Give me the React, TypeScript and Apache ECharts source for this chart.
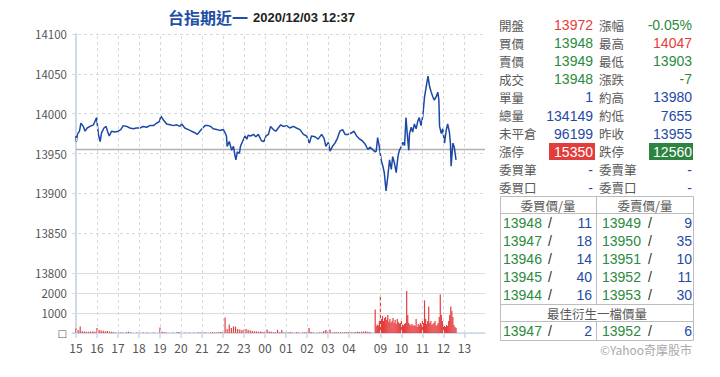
import React, { useEffect, useRef } from "react";
import * as echarts from "echarts";

// ---------- DATA ----------
const priceTimes = [
  "15:00","15:01","15:04","15:10","15:14","15:21","15:26","15:32","15:40","15:50","15:59",
  "16:04","16:09","16:13","16:20","16:26","16:30","16:35","16:42","16:51",
  "17:01","17:08","17:15","17:25","17:34","17:44","17:53",
  "18:03","18:12","18:22","18:31","18:41","18:50","18:58",
  "19:03","19:10","19:19","19:29","19:38","19:48","19:57",
  "20:02","20:11","20:21","20:30","20:40","20:47","20:54",
  "21:02","21:09","21:18","21:25","21:32","21:42","21:51",
  "22:01","22:06","22:10","22:12","22:18","22:25","22:30","22:34","22:37","22:41","22:47","22:50","22:56",
  "23:03","23:08","23:12","23:19","23:27","23:34","23:41","23:50","23:57",
  "00:03","00:10","00:16","00:24","00:31","00:38","00:45","00:52",
  "01:02","01:11","01:21","01:30","01:40","01:50","01:59",
  "02:07","02:13","02:23","02:32","02:42","02:49","02:54",
  "03:01","03:06","03:13","03:20","03:27","03:34","03:42","03:49","03:58",
  "04:08","04:14","04:22","04:31","04:38","04:46","04:54","05:00",
  "08:45","08:48","08:52","08:57","09:02","09:07","09:11","09:16","09:21","09:26","09:31","09:35","09:40","09:45","09:50","09:54","09:59",
  "10:04","10:09","10:13","10:18","10:21","10:23","10:28","10:32","10:37","10:42","10:47","10:51","10:56",
  "11:01","11:06","11:09","11:12","11:16","11:20","11:25","11:30","11:34","11:39","11:44","11:47","11:49","11:54","11:58",
  "12:03","12:08","12:12","12:17","12:20","12:22","12:27","12:31","12:36"
];
const prices = [
  13972,13965,13974,13978,13988,13984,13978,13982,13984,13986,13995,
  13974,13965,13976,13982,13984,13978,13972,13978,13977,
  13978,13980,13985,13984,13982,13981,13982,
  13982,13984,13983,13985,13985,13988,13990,
  13997,13992,13987,13986,13985,13986,13984,
  13987,13982,13980,13978,13976,13974,13978,
  13982,13985,13985,13984,13981,13980,13979,
  13980,13976,13972,13959,13965,13954,13959,13948,13942,13952,13950,13959,13965,
  13972,13968,13973,13972,13974,13971,13974,13966,13965,
  13972,13974,13984,13980,13978,13982,13986,13984,
  13985,13982,13984,13982,13980,13974,13972,
  13963,13972,13971,13968,13974,13969,13959,
  13964,13953,13959,13963,13969,13978,13980,13974,13974,
  13976,13978,13972,13968,13966,13962,13955,13958,
  13952,13953,13970,13958,13942,13934,13926,13903,13921,13942,13930,13946,13938,13926,13946,13954,13958,
  13964,13960,13995,13967,13954,13975,13983,13977,13987,13981,13991,13995,13985,
  13997,14021,14029,14037,14047,14035,14027,14021,14017,14021,14027,14017,13984,13975,13981,
  13963,13979,13987,13977,13963,13934,13963,13958,13942
];
const prevClose = 13955;

// night session volumes, one bar every 6 minutes from 15:00
const nightVolumes = [
  220,150,330,90,80,70,60,80,70,60,
  250,150,120,110,90,100,70,60,40,30,
  0,30,20,0,40,60,30,0,0,20,
  0,0,20,0,30,0,0,20,0,0,
  280,60,40,30,0,0,20,0,40,50,
  20,0,20,0,30,0,20,0,30,20,
  30,20,30,0,30,40,30,20,40,50,
  50,780,200,420,250,330,320,200,180,150,
  180,200,160,120,100,90,80,60,70,50,
  60,170,80,60,40,40,160,40,150,30,
  40,30,50,20,0,40,30,0,30,40,
  40,250,50,30,0,20,30,20,100,150,
  60,170,30,40,40,30,40,30,40,40,
  50,40,30,40,60,50,70,80,90,60,50
];
// day session volumes, one bar every 3 minutes from 08:45
const dayVolumes = [
  1170,350,420,380,600,1850,700,850,600,750,
  800,650,900,550,700,500,600,750,500,650,
  450,700,550,480,500,600,420,380,450,500,
  2100,900,500,420,380,450,350,400,350,700,
  300,450,380,500,420,600,500,1630,700,450,
  600,1330,500,600,400,450,500,600,350,400,
  500,800,1920,900,600,400,350,300,400,350,
  600,900,1330,1100,800,400,300,250
];

const xTickLabels = ["15","16","17","18","19","20","21","22","23","00","01","02","03","04","09","10","11","12","13"];
const priceTicks = [13800, 13850, 13900, 13950, 14000, 14050, 14100];
const volumeTicks = [0, 1000, 2000, 3000];

const titleText = "台指期近一";
const stampText = "2020/12/03 12:37";

const infoLabelsL = ["開盤","買價","賣價","成交","單量","總量","未平倉","漲停","委買筆","委買口"];
const infoValuesL = ["13972","13948","13949","13948","1","134149","96199","15350","-","-"];
const infoColorsL = ["red","green","green","green","blue","blue","blue","white","blue","blue"];
const infoLabelsR = ["漲幅","最高","最低","漲跌","約高","約低","昨收","跌停","委賣筆","委賣口"];
const infoValuesR = ["-0.05%","14047","13903","-7","13980","7655","13955","12560","-","-"];
const infoColorsR = ["green","red","green","green","blue","blue","blue","white","blue","blue"];

const bidPrices = ["13948","13947","13946","13945","13944"];
const bidVolumes = ["11","18","14","40","16"];
const askPrices = ["13949","13950","13951","13952","13953"];
const askVolumes = ["9","35","10","11","30"];
const bestBid = ["13947", "2"];
const bestAsk = ["13952", "6"];

// ---------- helpers ----------
const toOffset = (t: string) => {
  const [h, m] = t.split(":").map(Number);
  if (h >= 15) return h - 15 + m / 60;
  if (h <= 5) return h + 9 + m / 60;
  return 14.5 + (h - 9) + m / 60;
};
const X_MIN = -0.19;
const X_MAX = 19.48;

const pad = (n: number) => (n < 10 ? "0" + n : "" + n);
const nightVolData = nightVolumes.map((v, i) => {
  const mins = 15 * 60 + i * 6;
  const t = pad(Math.floor(mins / 60) % 24) + ":" + pad(mins % 60);
  return [toOffset(t), v];
});
const dayVolData = dayVolumes.map((v, i) => {
  const mins = 8 * 60 + 45 + i * 3;
  const t = pad(Math.floor(mins / 60)) + ":" + pad(mins % 60);
  return [toOffset(t), v];
});
const priceData = priceTimes.map((t, i) => [toOffset(t), prices[i]]);
const tickOffsets = xTickLabels.map((l) => toOffset(l + ":00"));

const COLORS: Record<string, string> = {
  red: "#e63b3b",
  green: "#2b8a3e",
  blue: "#1f4aa6",
  white: "#ffffff",
};
const CJK = "'Noto Sans CJK TC', 'Noto Sans', sans-serif";
const LAT = "'Liberation Sans', Arial, sans-serif";

function txt(text: string, x: number, y: number, fill: string, size: number, align: string = "left", weight: string = "normal", family: string = LAT) {
  return {
    type: "text",
    x,
    y,
    silent: true,
    style: {
      text,
      fill,
      font: `${weight} ${size}px ${family}`,
      align,
      verticalAlign: "middle",
      textAlign: align,
      textVerticalAlign: "middle",
    },
  };
}
function hline(x1: number, x2: number, y: number) {
  return { type: "line", silent: true, shape: { x1, y1: y, x2, y2: y }, style: { stroke: "#bdbdbd", lineWidth: 1 } };
}
function vline(x: number, y1: number, y2: number) {
  return { type: "line", silent: true, shape: { x1: x, y1, x2: x, y2 }, style: { stroke: "#bdbdbd", lineWidth: 1 } };
}

function buildGraphic() {
  const g: any[] = [];
  g.push(txt(titleText, 168, 17, "#1f4fa3", 16, "left", "bold", CJK));
  g.push(txt(stampText, 253, 17, "#222222", 13, "left", "bold", LAT));
  // red/green boxes
  g.push({ type: "rect", silent: true, shape: { x: 549, y: 143, width: 46, height: 17 }, style: { fill: "#e23d3d" } });
  g.push({ type: "rect", silent: true, shape: { x: 649, y: 143, width: 44, height: 17 }, style: { fill: "#2c8440" } });
  for (let i = 0; i < infoLabelsL.length; i++) {
    const y = 25 + i * 18.1;
    g.push(txt(infoLabelsL[i], 499, y, "#5a5a5a", 12.5, "left", "normal", CJK));
    g.push(txt(infoValuesL[i], 593, y, COLORS[infoColorsL[i]], 14, "right"));
    g.push(txt(infoLabelsR[i], 599, y, "#5a5a5a", 12.5, "left", "normal", CJK));
    g.push(txt(infoValuesR[i], 692, y, COLORS[infoColorsR[i]], 14, "right"));
  }
  // order book table
  g.push({ type: "rect", silent: true, shape: { x: 500.5, y: 196.5, width: 193, height: 144 }, style: { fill: "none", stroke: "#bdbdbd", lineWidth: 1 } });
  g.push(hline(500.5, 693.5, 213.5));
  g.push(hline(500.5, 693.5, 304.5));
  g.push(hline(500.5, 693.5, 321.5));
  g.push(vline(596.5, 196.5, 304.5));
  g.push(vline(596.5, 321.5, 340.5));
  g.push(txt("委買價/量", 548, 205, "#5a5a5a", 12.5, "center", "normal", CJK));
  g.push(txt("委賣價/量", 645, 205, "#5a5a5a", 12.5, "center", "normal", CJK));
  for (let i = 0; i < bidPrices.length; i++) {
    const y = 223.3 + i * 17.9;
    g.push(txt(bidPrices[i], 503, y, COLORS.green, 14));
    g.push(txt("/", 550, y, "#333333", 14, "center"));
    g.push(txt(bidVolumes[i], 592, y, COLORS.blue, 14, "right"));
    g.push(txt(askPrices[i], 602, y, COLORS.green, 14));
    g.push(txt("/", 650, y, "#333333", 14, "center"));
    g.push(txt(askVolumes[i], 692, y, COLORS.blue, 14, "right"));
  }
  g.push(txt("最佳衍生一檔價量", 597, 313, "#5a5a5a", 12.5, "center", "normal", CJK));
  g.push(txt(bestBid[0], 503, 331, COLORS.green, 14));
  g.push(txt("/", 550, 331, "#333333", 14, "center"));
  g.push(txt(bestBid[1], 592, 331, COLORS.blue, 14, "right"));
  g.push(txt(bestAsk[0], 602, 331, COLORS.green, 14));
  g.push(txt("/", 650, 331, "#333333", 14, "center"));
  g.push(txt(bestAsk[1], 692, 331, COLORS.blue, 14, "right"));
  g.push(txt("©Yahoo奇摩股市", 692, 349.5, "#aaaaaa", 12, "right", "normal", CJK));
  return g;
}

const AXIS_BLUE = "#c9d9ee";
const gridMarkLine = {
  silent: true,
  symbol: ["none", "none"],
  label: { show: false },
  lineStyle: { type: [3, 3], color: "#d9d9d9", width: 1 },
  data: tickOffsets.map((x) => ({ xAxis: x })),
};

export default function App() {
  const ref = useRef<HTMLDivElement>(null);
  useEffect(() => {
    if (!ref.current) return;
    const chart = echarts.init(ref.current, null, { renderer: "svg" });
    const option: any = {
      animation: false,
      backgroundColor: "#ffffff",
      textStyle: { fontFamily: CJK },
      grid: [
        { left: 72, right: 235, top: 34, height: 239 },
        { left: 72, right: 235, top: 273, height: 60 },
      ],
      xAxis: [
        {
          gridIndex: 0, type: "value", min: X_MIN, max: X_MAX,
          axisLine: { show: false }, axisTick: { show: false }, axisLabel: { show: false }, splitLine: { show: false },
        },
        {
          gridIndex: 1, type: "value", min: X_MIN, max: X_MAX,
          axisLine: { show: true, onZero: false, lineStyle: { color: AXIS_BLUE, width: 1.5 } },
          axisTick: { show: true, customValues: tickOffsets, length: 5, lineStyle: { color: AXIS_BLUE, width: 1.5 } },
          axisLabel: {
            customValues: tickOffsets,
            color: "#555555",
            fontSize: 12,
            margin: 8,
            fontFamily: CJK,
            formatter: (v: number) => {
              let best = 0;
              for (let i = 0; i < tickOffsets.length; i++) {
                if (Math.abs(tickOffsets[i] - v) < Math.abs(tickOffsets[best] - v)) best = i;
              }
              return xTickLabels[best];
            },
          },
          splitLine: { show: false },
        },
      ],
      yAxis: [
        {
          gridIndex: 0, type: "value", min: priceTicks[0], max: priceTicks[priceTicks.length - 1], interval: 50,
          axisLine: { show: true, lineStyle: { color: AXIS_BLUE, width: 2 } },
          axisTick: { show: false },
          axisLabel: { color: "#555555", fontSize: 11.5, margin: 5, fontFamily: CJK, formatter: (v: number) => String(v) },
          splitLine: { show: true, lineStyle: { type: [3, 3], color: "#d9d9d9", width: 1 } },
        },
        {
          gridIndex: 1, type: "value", min: volumeTicks[0], max: volumeTicks[volumeTicks.length - 1], interval: 1000,
          axisLine: { show: true, lineStyle: { color: AXIS_BLUE, width: 2 } },
          axisTick: { show: false },
          axisLabel: {
            color: "#555555", fontSize: 11.5, margin: 5, fontFamily: CJK,
            formatter: (v: number) => (v === 0 ? "{b|□}" : v === 3000 ? "" : String(v)),
            rich: { b: { fontFamily: "'DejaVu Sans', sans-serif", fontSize: 10, color: "#555555" } },
          },
          splitLine: { show: true, lineStyle: { color: "#dddddd", width: 1 } },
        },
      ],
      series: [
        {
          name: "昨收",
          type: "line",
          xAxisIndex: 0, yAxisIndex: 0,
          data: [[0, prevClose], [X_MAX, prevClose]],
          symbol: "none",
          lineStyle: { color: "#b0b0b0", width: 1.5 },
          z: 1,
          silent: true,
          markLine: gridMarkLine,
        },
        {
          name: "grid2",
          type: "line",
          xAxisIndex: 1, yAxisIndex: 1,
          data: [[X_MIN, 0]],
          symbol: "none",
          lineStyle: { width: 0 },
          z: 1,
          silent: true,
          markLine: gridMarkLine,
        },
        {
          name: "成交量",
          type: "bar",
          xAxisIndex: 1, yAxisIndex: 1,
          data: [...nightVolData, ...dayVolData],
          barWidth: 1.2,
          itemStyle: { color: "#e53d3d" },
          z: 2,
          silent: true,
        },
        {
          name: "台指期近一",
          type: "line",
          xAxisIndex: 0, yAxisIndex: 0,
          data: priceData,
          symbol: "none",
          lineStyle: { color: "#1c49a6", width: 1.5 },
          z: 3,
          silent: true,
        },
      ],
      graphic: buildGraphic(),
    };
    chart.setOption(option);
    return () => chart.dispose();
  }, []);
  return (
    <div
      ref={ref}
      style={{ position: "fixed", left: 0, top: 0, width: 720, height: 377, background: "#fff" }}
    />
  );
}
